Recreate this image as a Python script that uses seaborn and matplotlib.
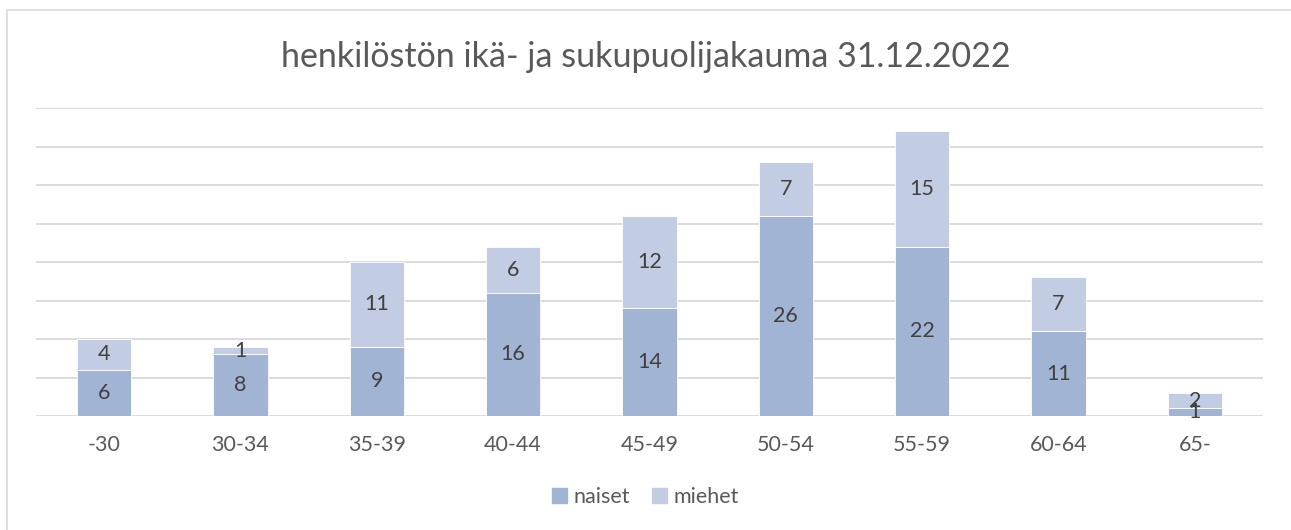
import pandas as pd
import matplotlib.pyplot as plt
import seaborn as sns
from matplotlib.patches import Rectangle, Patch

# data
ikaryhmat = ['-30', '30-34', '35-39', '40-44', '45-49', '50-54', '55-59', '60-64', '65-']
naiset = [6, 8, 9, 16, 14, 26, 22, 11, 1]
miehet = [4, 1, 11, 6, 12, 7, 15, 7, 2]

sns.set_style('white')
plt.rcParams['font.family'] = ['Lato', 'DejaVu Sans']

c_naiset = '#a2b4d4'
c_miehet = '#c2cde3'
txt = '#404040'

df = pd.DataFrame({'ika': ikaryhmat, 'naiset': naiset, 'miehet': miehet})

fig = plt.figure(figsize=(12.91, 5.30), dpi=100)
ax = fig.add_axes([36 / 1291, 1 - 416 / 530, (1263 - 36) / 1291, (416 - 108) / 530])

sns.barplot(data=df, x='ika', y='naiset', color=c_naiset, width=0.4, ax=ax,
            saturation=1, zorder=2, linewidth=0.6, edgecolor='white')
sns.barplot(data=df, x='ika', y='miehet', color=c_miehet, width=0.4, ax=ax,
            saturation=1, bottom=df['naiset'], zorder=2, linewidth=0.6, edgecolor='white')

# arvot palkkien sisään
for i, (n, m) in enumerate(zip(naiset, miehet)):
    ax.text(i, n / 2, str(n), ha='center', va='center', fontsize=15.5, color=txt, zorder=3)
    ax.text(i, n + m / 2, str(m), ha='center', va='center', fontsize=15.5, color=txt, zorder=3)

ax.set_ylim(0, 40)
ax.set_xlim(-0.5, len(ikaryhmat) - 0.5)
ax.set_yticks(range(0, 41, 5))
ax.set_yticklabels([])
ax.yaxis.grid(True, color='#d9d9d9', linewidth=1.3, zorder=0)
ax.set_axisbelow(True)
for s in ax.spines.values():
    s.set_visible(False)
ax.tick_params(axis='x', length=0, pad=14, labelsize=15.5, labelcolor='#595959')
ax.tick_params(axis='y', length=0)
ax.set_xlabel('')
ax.set_ylabel('')

fig.text(0.5, 1 - 57 / 530, 'henkilöstön ikä- ja sukupuolijakauma 31.12.2022',
         ha='center', va='center', fontsize=24.5, color='#595959')

handles = [Patch(color=c_naiset, label='naiset'), Patch(color=c_miehet, label='miehet')]
fig.legend(handles=handles, loc='center', bbox_to_anchor=(0.5, 1 - 497 / 530), ncol=2,
           frameon=False, fontsize=15.5, handlelength=0.7, handleheight=0.7,
           handletextpad=0.3, columnspacing=1.0, labelcolor='#595959')

# kehys (vain ylä- ja vasen reuna näkyvissä)
fig.patches.append(Rectangle((7 / 1291, -0.05), 1.1, 1 - 10 / 530 + 0.05,
                             transform=fig.transFigure, fill=False,
                             edgecolor='#d9d9d9', linewidth=1.2))

fig.savefig('out.png', dpi=100)
